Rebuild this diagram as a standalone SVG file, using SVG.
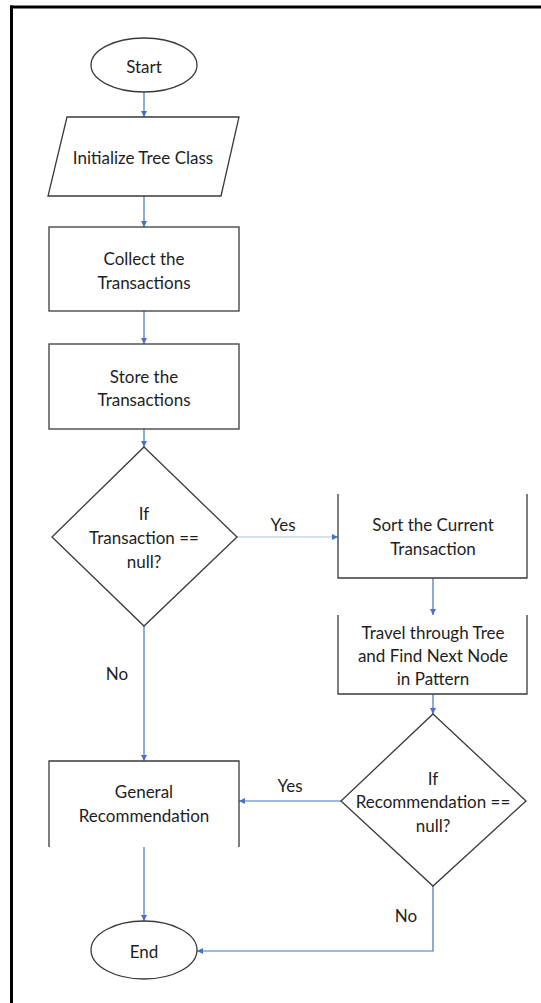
<svg xmlns="http://www.w3.org/2000/svg" width="541" height="1003" viewBox="0 0 541 1003">
<style>
  .shape { fill: #ffffff; stroke: #3a3a3a; stroke-width: 1.3; }
  .edge { fill: none; stroke: #3a3a3a; stroke-width: 1.3; }
  .conn { fill: none; stroke: #4472c4; stroke-width: 1.2; }
  .faint { fill: none; stroke: #a9bfe0; stroke-width: 1; }
  text { font-family: Lato, "Liberation Sans", sans-serif; font-size: 17px; fill: #1e1e1e; text-anchor: middle; dominant-baseline: central; }
</style>
<defs>
  <marker id="arr" markerWidth="8" markerHeight="8" refX="6" refY="3" orient="auto" markerUnits="userSpaceOnUse">
    <path d="M0,0 L6,3 L0,6 Z" fill="#4472c4"/>
  </marker>
</defs>
<rect x="0" y="0" width="541" height="1003" fill="#ffffff"/>
<g id="frame">
  <line x1="10" y1="7" x2="541" y2="7" stroke="#000" stroke-width="3"/>
  <line x1="11.5" y1="5.5" x2="11.5" y2="1003" stroke="#000" stroke-width="3"/>
</g>
<g id="connectors">
  <line class="conn" x1="144" y1="92" x2="144" y2="117" marker-end="url(#arr)"/>
  <line class="conn" x1="144" y1="196" x2="144" y2="227" marker-end="url(#arr)"/>
  <line class="conn" x1="144" y1="311" x2="144" y2="344" marker-end="url(#arr)"/>
  <line class="conn" x1="144" y1="429" x2="144" y2="447" marker-end="url(#arr)"/>
  <line class="faint" x1="237" y1="537" x2="338" y2="537" marker-end="url(#arr)"/>
  <line class="conn" x1="433" y1="578" x2="433" y2="615" marker-end="url(#arr)"/>
  <line class="conn" x1="433" y1="694" x2="433" y2="714" marker-end="url(#arr)"/>
  <line class="conn" x1="144" y1="626" x2="144" y2="761" marker-end="url(#arr)"/>
  <line class="conn" x1="341" y1="801" x2="239" y2="801" marker-end="url(#arr)"/>
  <line class="conn" x1="144" y1="847" x2="144" y2="921" marker-end="url(#arr)"/>
  <polyline class="conn" points="433,886 433,951 197,951" marker-end="url(#arr)"/>
  <text x="283" y="524">Yes</text>
  <text x="117" y="673">No</text>
  <text x="290" y="785">Yes</text>
  <text x="406" y="915">No</text>
</g>
<g id="start">
  <ellipse class="shape" cx="144" cy="65" rx="53" ry="27"/>
  <text x="144" y="66">Start</text>
</g>
<g id="init">
  <polygon class="shape" points="67,117 239,117 221,196 48,196"/>
  <text x="143" y="157">Initialize Tree Class</text>
</g>
<g id="collect">
  <rect class="shape" x="49" y="227" width="190" height="84"/>
  <text x="144" y="258">Collect the</text>
  <text x="144" y="282">Transactions</text>
</g>
<g id="store">
  <rect class="shape" x="49" y="344" width="190" height="85"/>
  <text x="144" y="376">Store the</text>
  <text x="144" y="399">Transactions</text>
</g>
<g id="decision1">
  <polygon class="shape" points="144,447 237,537 144,626 52,537"/>
  <text x="144" y="513">If</text>
  <text x="144" y="537">Transaction ==</text>
  <text x="144" y="561">null?</text>
</g>
<g id="sort">
  <polyline class="edge" points="338,494 338,578 527,578 527,494"/>
  <text x="433" y="524">Sort the Current</text>
  <text x="433" y="548">Transaction</text>
</g>
<g id="travel">
  <polyline class="edge" points="338,615 338,694 527,694 527,615"/>
  <text x="433" y="632">Travel through Tree</text>
  <text x="433" y="655">and Find Next Node</text>
  <text x="433" y="678">in Pattern</text>
</g>
<g id="decision2">
  <polygon class="shape" points="433,714 526,801 433,886 341,801"/>
  <text x="433" y="778">If</text>
  <text x="433" y="801">Recommendation ==</text>
  <text x="433" y="825">null?</text>
</g>
<g id="general">
  <polyline class="edge" points="49,847 49,761 239,761 239,847"/>
  <text x="144" y="791">General</text>
  <text x="144" y="815">Recommendation</text>
</g>
<g id="end">
  <ellipse class="shape" cx="144" cy="950" rx="53" ry="29"/>
  <text x="144" y="951">End</text>
</g>
</svg>
